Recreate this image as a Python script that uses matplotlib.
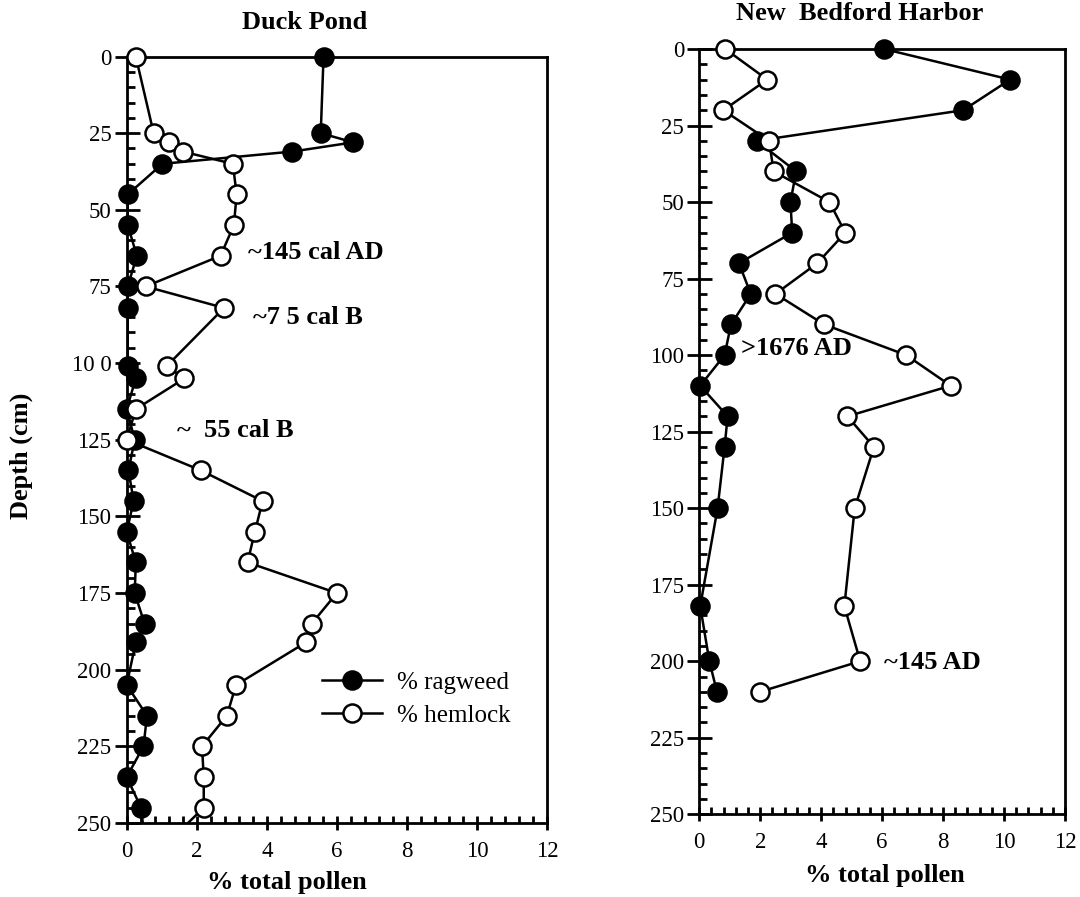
import matplotlib
matplotlib.use('Agg')
import matplotlib.pyplot as plt
from matplotlib.ticker import MultipleLocator, FixedLocator
from matplotlib.lines import Line2D
import numpy as np

plt.rcParams['font.family'] = ['Liberation Serif', 'DejaVu Serif']

# ---------------- data ----------------
duck_depth = [0, 25, 28, 31, 35, 45, 55, 65, 75, 82, 101, 105, 115, 125, 135, 145,
              155, 165, 175, 185, 191, 205, 215, 225, 235, 245, 255]
duck_ragweed = [5.62, 5.54, 6.47, 4.73, 1.02, 0.03, 0.03, 0.29, 0.03, 0.03, 0.03, 0.26,
                0.0, 0.23, 0.05, 0.2, 0.0, 0.26, 0.23, 0.51, 0.26, 0.0, 0.58, 0.48, 0.0,
                0.41, 0.51]
duck_hemlock = [0.26, 0.77, 1.2, 1.6, 3.03, 3.14, 3.06, 2.68, 0.54, 2.78, 1.14, 1.65,
                0.26, 0.0, 2.12, 3.88, 3.66, 3.45, 6.0, 5.28, 5.13, 3.12, 2.86, 2.15,
                2.2, 2.2, 1.3]

nbh_depth = [0, 10, 20, 30, 40, 50, 60, 70, 80, 90, 100, 110, 120, 130, 150, 182, 200, 210]
nbh_ragweed = [6.06, 10.2, 8.66, 1.88, 3.18, 2.99, 3.05, 1.3, 1.69, 1.04, 0.83, 0.03,
               0.93, 0.83, 0.6, 0.03, 0.33, 0.58]
nbh_hemlock = [0.85, 2.23, 0.79, 2.29, 2.44, 4.27, 4.79, 3.87, 2.5, 4.1, 6.79, 8.25,
               4.86, 5.73, 5.1, 4.76, 5.28, 1.99]

y_ticks = [0, 25, 50, 75, 100, 125, 150, 175, 200, 225, 250]
duck_ytick_labels = ['0', '25', '50', '75', '10 0', '125', '150', '175', '200', '225', '250']
nbh_ytick_labels = ['0', '25', '50', '75', '100', '125', '150', '175', '200', '225', '250']
x_ticks = [0, 2, 4, 6, 8, 10, 12]

titles = ['Duck Pond', 'New  Bedford Harbor']
series_labels = ['% ragweed', '% hemlock']
xlabel = '% total pollen'
ylabel = 'Depth (cm)'

duck_notes = [('~145 cal AD', 3.45, 64), ('~7 5 cal B', 3.6, 85), ('~  55 cal B', 1.43, 122)]
nbh_notes = [('>1676 AD', 1.37, 98), ('~145 AD', 6.06, 200.5)]

# ---------------- figure ----------------
fig = plt.figure(figsize=(10.8, 8.97), dpi=100)
ax1 = fig.add_axes([0.1173, 0.0825, 0.3892, 0.8545])
ax2 = fig.add_axes([0.6475, 0.0922, 0.3386, 0.8532])

LW = 1.8
MS = 13


def style(ax, ylabels):
    ax.set_xlim(0, 12)
    ax.set_ylim(250, 0)
    for s in ax.spines.values():
        s.set_linewidth(2.0)
    ax.xaxis.set_major_locator(FixedLocator(x_ticks))
    ax.xaxis.set_minor_locator(MultipleLocator(0.4))
    ax.yaxis.set_major_locator(FixedLocator(y_ticks))
    ax.set_yticklabels(ylabels)
    ax.set_xticklabels([str(t) for t in x_ticks])
    ax.yaxis.set_minor_locator(MultipleLocator(5))
    ax.tick_params(axis='x', which='major', direction='inout', length=10, width=2,
                   labelsize=16.5, pad=8)
    ax.tick_params(axis='x', which='minor', direction='in', length=5, width=2)
    ax.tick_params(axis='y', which='major', direction='inout', length=18, width=2,
                   labelsize=16.5, pad=2)
    ax.tick_params(axis='y', which='minor', direction='in', length=6, width=2)
    ax.tick_params(which='both', top=False, right=False)


def draw(ax, depth, rag, hem):
    depth = np.asarray(depth, float)
    rag = np.asarray(rag, float)
    hem = np.asarray(hem, float)
    m = depth <= 250
    ax.plot(rag, depth, color='k', lw=LW, zorder=2)
    ax.plot(hem, depth, color='k', lw=LW, zorder=2)
    ax.plot(rag[m], depth[m], 'o', ms=MS, mfc='k', mec='k', mew=1.8,
            clip_on=False, zorder=3)
    ax.plot(hem[m], depth[m], 'o', ms=MS, mfc='white', mec='k', mew=1.8,
            clip_on=False, zorder=4)


style(ax1, duck_ytick_labels)
style(ax2, nbh_ytick_labels)
draw(ax1, duck_depth, duck_ragweed, duck_hemlock)
draw(ax2, nbh_depth, nbh_ragweed, nbh_hemlock)

for txt, x, y in duck_notes:
    ax1.text(x, y, txt, fontsize=19, fontweight='bold', ha='left', va='center')
for txt, x, y in nbh_notes:
    ax2.text(x, y, txt, fontsize=19, fontweight='bold', ha='left', va='center')

ax1.text(5.09, -11.0, titles[0], fontsize=19, fontweight='bold', ha='center',
         va='center', clip_on=False)
ax2.text(5.27, -11.5, titles[1], fontsize=19, fontweight='bold', ha='center',
         va='center', clip_on=False)

fig.text(286.6 / 1080, 1 - 882 / 897, xlabel, fontsize=19, fontweight='bold',
         ha='center', va='center')
fig.text(885 / 1080, 1 - 875 / 897, xlabel, fontsize=19, fontweight='bold',
         ha='center', va='center')
fig.text(21 / 1080, 1 - 456 / 897, ylabel, fontsize=19, fontweight='bold',
         ha='center', va='center', rotation=90)

handles = [Line2D([0], [0], color='k', lw=LW, marker='o', ms=MS, mfc='k', mec='k', mew=1.8),
           Line2D([0], [0], color='k', lw=LW, marker='o', ms=MS, mfc='white', mec='k', mew=1.8)]
ax1.legend(handles, series_labels, loc='upper left', bbox_to_anchor=(5.57, 200.5),
           bbox_transform=ax1.transData, frameon=False, borderpad=0, borderaxespad=0,
           fontsize=18, handlelength=2.4, handletextpad=0.6, labelspacing=0.42)

fig.savefig('out.png', dpi=100)
